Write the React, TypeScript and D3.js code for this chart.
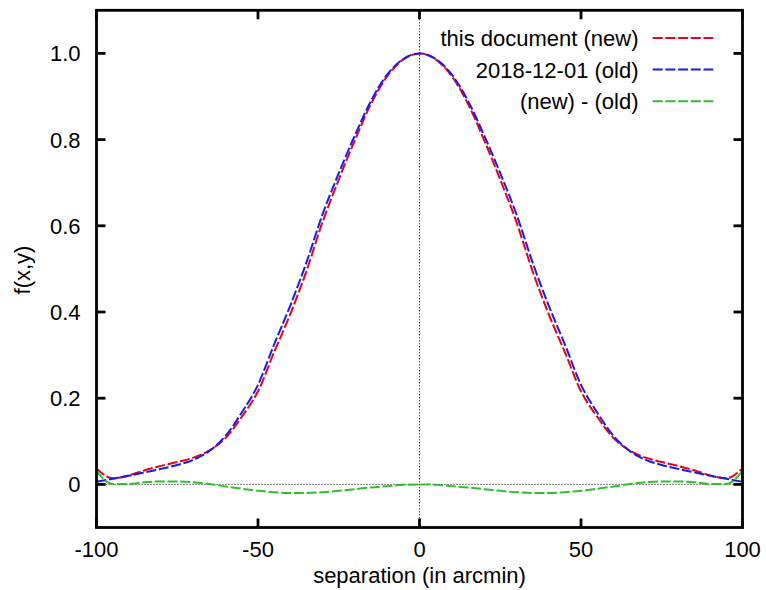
import React from "react";
import * as d3 from "d3";

const xs = [-100,-95,-90,-85,-80,-75,-70,-65,-60,-55,-50,-45,-40,-35,-30,-25,-20,-15,-10,-5,0,5,10,15,20,25,30,35,40,45,50,55,60,65,70,75,80,85,90,95,100];

const newValues = [0.037,0.014,0.021,0.033,0.043,0.052,0.062,0.079,0.108,0.157,0.216,0.307,0.395,0.495,0.609,0.707,0.799,0.883,0.947,0.986,1.000,0.986,0.947,0.883,0.799,0.707,0.609,0.495,0.395,0.307,0.216,0.157,0.108,0.079,0.062,0.052,0.043,0.033,0.021,0.014,0.037];

const oldValues = [0.006,0.013,0.020,0.028,0.036,0.045,0.057,0.078,0.113,0.167,0.231,0.325,0.415,0.515,0.627,0.722,0.810,0.890,0.951,0.987,1.000,0.987,0.951,0.890,0.810,0.722,0.627,0.515,0.415,0.325,0.231,0.167,0.113,0.078,0.057,0.045,0.036,0.028,0.020,0.013,0.006];

const diffValues = [0.031,0.001,0.001,0.005,0.007,0.007,0.005,0.001,-0.005,-0.010,-0.015,-0.018,-0.020,-0.020,-0.018,-0.015,-0.011,-0.007,-0.004,-0.001,0.000,-0.001,-0.004,-0.007,-0.011,-0.015,-0.018,-0.020,-0.020,-0.018,-0.015,-0.010,-0.005,0.001,0.005,0.007,0.007,0.005,0.001,0.001,0.031];

const xTicks = [-100, -50, 0, 50, 100];
const yTicks = [0, 0.2, 0.4, 0.6, 0.8, 1.0];
const yTickLabels = ["0", "0.2", "0.4", "0.6", "0.8", "1.0"];

const seriesNames = ["this document (new)", "2018-12-01 (old)", "(new) - (old)"];
const seriesColors = ["#e8001c", "#1a1aef", "#2fbf2f"];
const seriesValues = [newValues, oldValues, diffValues];

const W = 766, H = 590;
const L = 96.5, R = 742.5, T = 10.3, B = 527.5;
const FONT = "'Liberation Sans', Arial, Helvetica, sans-serif";
const FS = 22;

export default function App() {
  const x = d3.scaleLinear().domain([-100, 100]).range([L, R]);
  const y = d3.scaleLinear().domain([-0.1, 1.1]).range([B, T]);
  const line = d3
    .line<number>()
    .x((_, i) => x(xs[i]))
    .y((d) => y(d))
    .curve(d3.curveMonotoneX);
  const tickLen = 9;
  const dash = "10,2.7";

  return (
    <svg
      width={W}
      height={H}
      style={{ position: "absolute", left: 0, top: 0, background: "#fff" }}
      fontFamily={FONT}
    >
      <rect x={0} y={0} width={W} height={H} fill="#fff" />
      {/* zero axes */}
      <line x1={L} x2={R} y1={y(0)} y2={y(0)} stroke="#000" strokeWidth={1} strokeDasharray="1,2" />
      <line x1={x(0)} x2={x(0)} y1={T} y2={B} stroke="#000" strokeWidth={1} strokeDasharray="1,2" />

      {/* curves */}
      {seriesValues.map((vals, k) => (
        <path
          key={k}
          d={line(vals) || ""}
          fill="none"
          stroke={seriesColors[k]}
          strokeWidth={2}
          strokeDasharray={dash}
        />
      ))}

      {/* ticks */}
      {xTicks.map((t) => (
        <g key={"xt" + t}>
          <line x1={x(t)} x2={x(t)} y1={B} y2={B - tickLen} stroke="#000" strokeWidth={2.8} />
          <line x1={x(t)} x2={x(t)} y1={T} y2={T + tickLen} stroke="#000" strokeWidth={2.8} />
          <text x={x(t)} y={557} textAnchor="middle" fontSize={FS} fill="#000">
            {t}
          </text>
        </g>
      ))}
      {yTicks.map((t, i) => (
        <g key={"yt" + t}>
          <line x1={L} x2={L + tickLen} y1={y(t)} y2={y(t)} stroke="#000" strokeWidth={2.8} />
          <line x1={R} x2={R - tickLen} y1={y(t)} y2={y(t)} stroke="#000" strokeWidth={2.8} />
          <text x={80.5} y={y(t)} dy="0.36em" textAnchor="end" fontSize={FS} fill="#000">
            {yTickLabels[i]}
          </text>
        </g>
      ))}

      {/* frame */}
      <rect x={L} y={T} width={R - L} height={B - T} fill="none" stroke="#000" strokeWidth={2.8} />

      {/* axis labels */}
      <text x={(L + R) / 2} y={583} textAnchor="middle" fontSize={FS} fill="#000">
        separation (in arcmin)
      </text>
      <text
        transform={`translate(30,270) rotate(-90)`}
        textAnchor="middle"
        fontSize={FS}
        fill="#000"
      >
        f(x,y)
      </text>

      {/* legend */}
      {seriesNames.map((name, k) => {
        const cy = 38 + k * 31.6;
        return (
          <g key={"lg" + k}>
            <text x={638.5} y={cy} dy="0.36em" textAnchor="end" fontSize={FS} fill="#000">
              {name}
            </text>
            <line
              x1={652.7}
              x2={713.3}
              y1={cy}
              y2={cy}
              stroke={seriesColors[k]}
              strokeWidth={2}
              strokeDasharray={dash}
            />
          </g>
        );
      })}
    </svg>
  );
}
